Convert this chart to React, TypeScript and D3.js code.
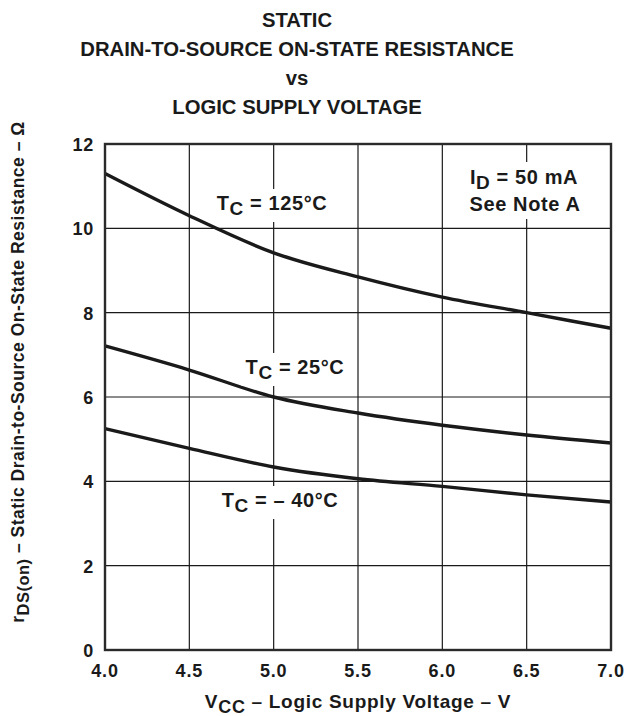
import React, { useEffect, useRef } from "react";
import * as d3 from "d3";

const voltages = [4.0, 4.5, 5.0, 5.5, 6.0, 6.5, 7.0];
const r125 = [11.3, 10.3, 9.42, 8.85, 8.37, 8.0, 7.63];
const r25 = [7.21, 6.64, 6.0, 5.62, 5.33, 5.1, 4.91];
const rm40 = [5.25, 4.78, 4.34, 4.06, 3.88, 3.68, 3.51];
const xTicks = [4.0, 4.5, 5.0, 5.5, 6.0, 6.5, 7.0];
const yTicks = [0, 2, 4, 6, 8, 10, 12];
const titleLines = ["STATIC", "DRAIN-TO-SOURCE ON-STATE RESISTANCE", "vs", "LOGIC SUPPLY VOLTAGE"];

const W = 629, H = 716;
const M = { left: 105, right: 611, top: 144, bottom: 650 };
const FONT = "Liberation Sans, Arial, Helvetica, sans-serif";
const INK = "#1a1a1a";

export default function App() {
  const ref = useRef<SVGSVGElement>(null);
  useEffect(() => {
    const svg = d3.select(ref.current);
    svg.selectAll("*").remove();
    const x = d3.scaleLinear().domain([4, 7]).range([M.left, M.right]);
    const y = d3.scaleLinear().domain([0, 12]).range([M.bottom, M.top]);

    // grid
    const g = svg.append("g");
    xTicks.slice(1, -1).forEach((t) => {
      g.append("line").attr("x1", x(t)).attr("x2", x(t)).attr("y1", M.top).attr("y2", M.bottom)
        .attr("stroke", INK).attr("stroke-width", 1.2);
    });
    yTicks.slice(1, -1).forEach((t) => {
      g.append("line").attr("x1", M.left).attr("x2", M.right).attr("y1", y(t)).attr("y2", y(t))
        .attr("stroke", INK).attr("stroke-width", 1.2);
    });

    // curves
    const line = d3.line<number>().x((_, i) => x(voltages[i])).y((d) => y(d)).curve(d3.curveMonotoneX);
    [r125, r25, rm40].forEach((s) => {
      svg.append("path").attr("d", line(s)!).attr("fill", "none").attr("stroke", INK).attr("stroke-width", 3.4);
    });

    // frame
    svg.append("rect").attr("x", M.left).attr("y", M.top).attr("width", M.right - M.left).attr("height", M.bottom - M.top)
      .attr("fill", "none").attr("stroke", "#2a2a2a").attr("stroke-width", 2.4);

    const txt = (sel: any, size: number, ls = 0) =>
      sel.attr("font-family", FONT).attr("font-weight", "bold").attr("font-size", size)
        .attr("letter-spacing", ls).attr("fill", INK);

    // curve labels with white backgrounds
    const addLabel = (cx: number, cy: number, main: string, sub: string, rest: string) => {
      const lg = svg.append("g");
      const bg = lg.append("rect").attr("fill", "white");
      const t = txt(lg.append("text").attr("x", cx).attr("y", cy).attr("text-anchor", "middle"), 20, 0.6);
      t.append("tspan").text(main);
      t.append("tspan").attr("dy", 5).attr("font-size", 19).text(sub);
      t.append("tspan").attr("dy", -5).text(rest);
      const bb = (t.node() as SVGTextElement).getBBox();
      bg.attr("x", bb.x - 4).attr("y", bb.y - 3).attr("width", bb.width + 8).attr("height", bb.height + 6);
    };
    addLabel(272, 210, "T", "C", " = 125°C");
    addLabel(295, 374, "T", "C", " = 25°C");
    addLabel(280, 507, "T", "C", " = – 40°C");

    // I_D note
    const ng = svg.append("g");
    const nbg = ng.append("rect").attr("fill", "white");
    const nt = txt(ng.append("text").attr("text-anchor", "middle"), 20, 0.6);
    const l1 = nt.append("tspan").attr("x", 524).attr("y", 184);
    l1.append("tspan").text("I");
    l1.append("tspan").attr("dy", 5).attr("font-size", 19).text("D");
    l1.append("tspan").attr("dy", -5).text(" = 50 mA");
    nt.append("tspan").attr("x", 525).attr("y", 211).text("See Note A");
    const nbb = (nt.node() as SVGTextElement).getBBox();
    nbg.attr("x", nbb.x - 4).attr("y", nbb.y - 4).attr("width", nbb.width + 8).attr("height", nbb.height + 8);

    // tick labels
    xTicks.forEach((t) => {
      txt(svg.append("text").attr("x", x(t)).attr("y", 677).attr("text-anchor", "middle"), 18, 0.8)
        .text(t.toFixed(1));
    });
    yTicks.forEach((t) => {
      txt(svg.append("text").attr("x", 94).attr("y", y(t) + 7).attr("text-anchor", "end"), 18, 0.8)
        .text(String(t));
    });

    // title
    [27, 56, 85, 114].forEach((yy, i) => {
      txt(svg.append("text").attr("x", 297).attr("y", yy).attr("text-anchor", "middle"), 20.3, 0)
        .text(titleLines[i]);
    });

    // x axis title
    const xt = txt(svg.append("text").attr("x", 358).attr("y", 708).attr("text-anchor", "middle"), 19, 0.7);
    xt.append("tspan").text("V");
    xt.append("tspan").attr("dy", 5).attr("font-size", 18).text("CC");
    xt.append("tspan").attr("dy", -5).text(" – Logic Supply Voltage – V");

    // y axis title
    const yt = txt(svg.append("text").attr("transform", `translate(24,372) rotate(-90)`).attr("text-anchor", "middle"), 17.5, 0.5);
    yt.append("tspan").text("r");
    yt.append("tspan").attr("dy", 5).attr("font-size", 16.5).text("DS(on)");
    yt.append("tspan").attr("dy", -5).text(" – Static Drain-to-Source On-State Resistance – Ω");
  }, []);

  return (
    <svg ref={ref} width={W} height={H} style={{ position: "absolute", left: 0, top: 0, background: "white" }} />
  );
}
